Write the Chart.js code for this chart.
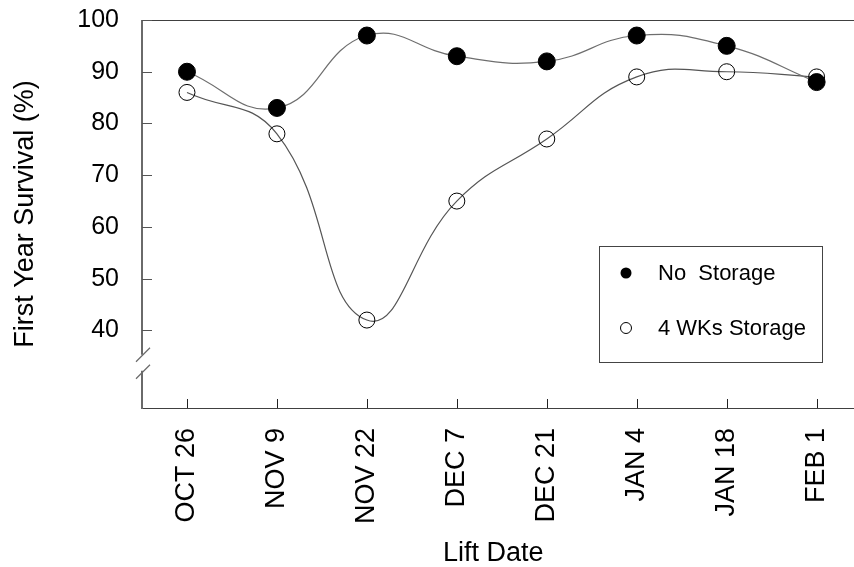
<!DOCTYPE html>
<html>
<head>
<meta charset="utf-8">
<script src="https://cdn.jsdelivr.net/npm/chart.js@4"></script>
<style>
  html, body { margin: 0; padding: 0; background: #fff; }
  #wrap { width: 854px; height: 567px; }
</style>
</head>
<body>
<div id="wrap"><canvas id="c" width="854" height="567"></canvas></div>
<script>
const categories = ['OCT 26', 'NOV 9', 'NOV 22', 'DEC 7', 'DEC 21', 'JAN 4', 'JAN 18', 'FEB 1'];
const noStorage = [90, 83, 97, 93, 92, 97, 95, 88];
const wks4Storage = [86, 78, 42, 65, 77, 89, 90, 89];
const yTickValues = [40, 50, 60, 70, 80, 90, 100];
const seriesLabels = ['No  Storage', '4 WKs Storage'];

const FONT = "'Liberation Sans', Arial, sans-serif";

const toPoints = arr => arr.map((v, i) => ({ x: i, y: v }));

const axesPlugin = {
  id: 'axesPlugin',
  afterDraw(chart) {
    const { ctx, chartArea: a, scales } = chart;
    const y = scales.y, x = scales.x;
    ctx.save();
    ctx.strokeStyle = '#404040';
    ctx.lineWidth = 1;
    ctx.beginPath();
    ctx.moveTo(a.left, a.top + 0.5);
    ctx.lineTo(chart.width, a.top + 0.5);
    ctx.stroke();
    ctx.beginPath();
    ctx.moveTo(a.left, a.bottom + 0.5);
    ctx.lineTo(chart.width, a.bottom + 0.5);
    ctx.stroke();
    const bTop = y.getPixelForValue(35.3);
    const bBot = y.getPixelForValue(32.2);
    ctx.strokeStyle = '#6a6a6a';
    ctx.lineWidth = 2;
    ctx.beginPath();
    ctx.moveTo(a.left, a.top);
    ctx.lineTo(a.left, bTop);
    ctx.moveTo(a.left, bBot);
    ctx.lineTo(a.left, a.bottom + 1);
    ctx.stroke();
    ctx.lineWidth = 1.2;
    ctx.beginPath();
    [bTop, bBot + 1].forEach(c => {
      ctx.moveTo(a.left - 6, c + 7);
      ctx.lineTo(a.left + 8, c - 7);
    });
    ctx.stroke();
    ctx.strokeStyle = '#555';
    ctx.lineWidth = 1.2;
    ctx.beginPath();
    yTickValues.forEach(v => {
      const p = Math.round(y.getPixelForValue(v)) + 0.5;
      ctx.moveTo(a.left, p);
      ctx.lineTo(a.left + 10, p);
    });
    ctx.stroke();
    ctx.strokeStyle = '#222';
    ctx.lineWidth = 1;
    ctx.beginPath();
    categories.forEach((c, i) => {
      const p = Math.round(x.getPixelForValue(i)) + 0.5;
      ctx.moveTo(p, a.bottom);
      ctx.lineTo(p, a.bottom - 9);
    });
    ctx.stroke();
    ctx.restore();
  }
};

const legendPlugin = {
  id: 'boxLegend',
  afterDraw(chart, args, opts) {
    const { ctx } = chart;
    ctx.save();
    ctx.strokeStyle = '#444';
    ctx.lineWidth = 1;
    ctx.strokeRect(opts.left + 0.5, opts.top + 0.5, opts.width, opts.height);
    chart.data.datasets.forEach((ds, i) => {
      const cy = opts.top + opts.firstRow + i * opts.rowGap;
      ctx.beginPath();
      ctx.arc(opts.left + opts.markerX, cy, opts.markerR, 0, Math.PI * 2);
      if (ds.pointBackgroundColor === '#000') {
        ctx.fillStyle = '#000';
        ctx.fill();
      } else {
        ctx.strokeStyle = '#000';
        ctx.lineWidth = 1;
        ctx.stroke();
      }
      ctx.fillStyle = '#000';
      ctx.font = '22px ' + FONT;
      ctx.textBaseline = 'middle';
      ctx.textAlign = 'left';
      ctx.fillText(ds.label, opts.left + opts.textX, cy + 1);
    });
    ctx.restore();
  }
};

const noPad = s => { s.paddingLeft = 0; s.paddingRight = 0; s.paddingTop = 0; s.paddingBottom = 0; };

new Chart(document.getElementById('c'), {
  type: 'line',
  data: {
    datasets: [
      {
        label: seriesLabels[0],
        data: toPoints(noStorage),
        borderColor: '#6e6e6e',
        borderWidth: 1.2,
        tension: 0.45,
        pointRadius: 8.5,
        pointBackgroundColor: '#000',
        pointBorderColor: '#000',
        pointBorderWidth: 1,
        fill: false
      },
      {
        label: seriesLabels[1],
        data: toPoints(wks4Storage),
        borderColor: '#555555',
        borderWidth: 1.2,
        tension: 0.45,
        pointRadius: 8,
        pointBackgroundColor: 'rgba(0,0,0,0)',
        pointBorderColor: '#000',
        pointBorderWidth: 1,
        fill: false
      }
    ]
  },
  options: {
    responsive: false,
    animation: false,
    devicePixelRatio: 1,
    clip: false,
    layout: { padding: { top: 20, left: 0, right: 0, bottom: 0 } },
    plugins: {
      legend: { display: false },
      tooltip: { enabled: false },
      boxLegend: { left: 599, top: 246, width: 223, height: 116, markerX: 27, markerR: 5.5, textX: 59, firstRow: 27, rowGap: 55 }
    },
    scales: {
      x: {
        type: 'linear',
        min: -0.5,
        max: 7.31,
        afterBuildTicks: s => { s.ticks = categories.map((c, i) => ({ value: i })); },
        afterFit: s => { s.height = 159; noPad(s); },
        grid: { display: false, drawTicks: false },
        border: { display: false },
        ticks: {
          autoSkip: false,
          maxRotation: 90,
          minRotation: 90,
          padding: 20,
          color: '#000',
          font: { family: FONT, size: 27 },
          callback: v => categories[v]
        },
        title: {
          display: true,
          text: 'Lift Date',
          color: '#000',
          font: { family: FONT, size: 27, lineHeight: 1 },
          padding: { top: 0, bottom: 0 }
        }
      },
      y: {
        min: 25,
        max: 100,
        afterBuildTicks: s => { s.ticks = yTickValues.map(v => ({ value: v })); },
        afterFit: s => { s.width = 142; noPad(s); },
        grid: { display: false, drawTicks: false },
        border: { display: false },
        ticks: {
          padding: 23,
          color: '#000',
          font: { family: FONT, size: 25 }
        },
        title: {
          display: true,
          text: 'First Year Survival (%)',
          color: '#000',
          font: { family: FONT, size: 27, lineHeight: 1 },
          padding: { top: 12, bottom: 0 }
        }
      }
    }
  },
  plugins: [axesPlugin, legendPlugin]
});
</script>
</body>
</html>
